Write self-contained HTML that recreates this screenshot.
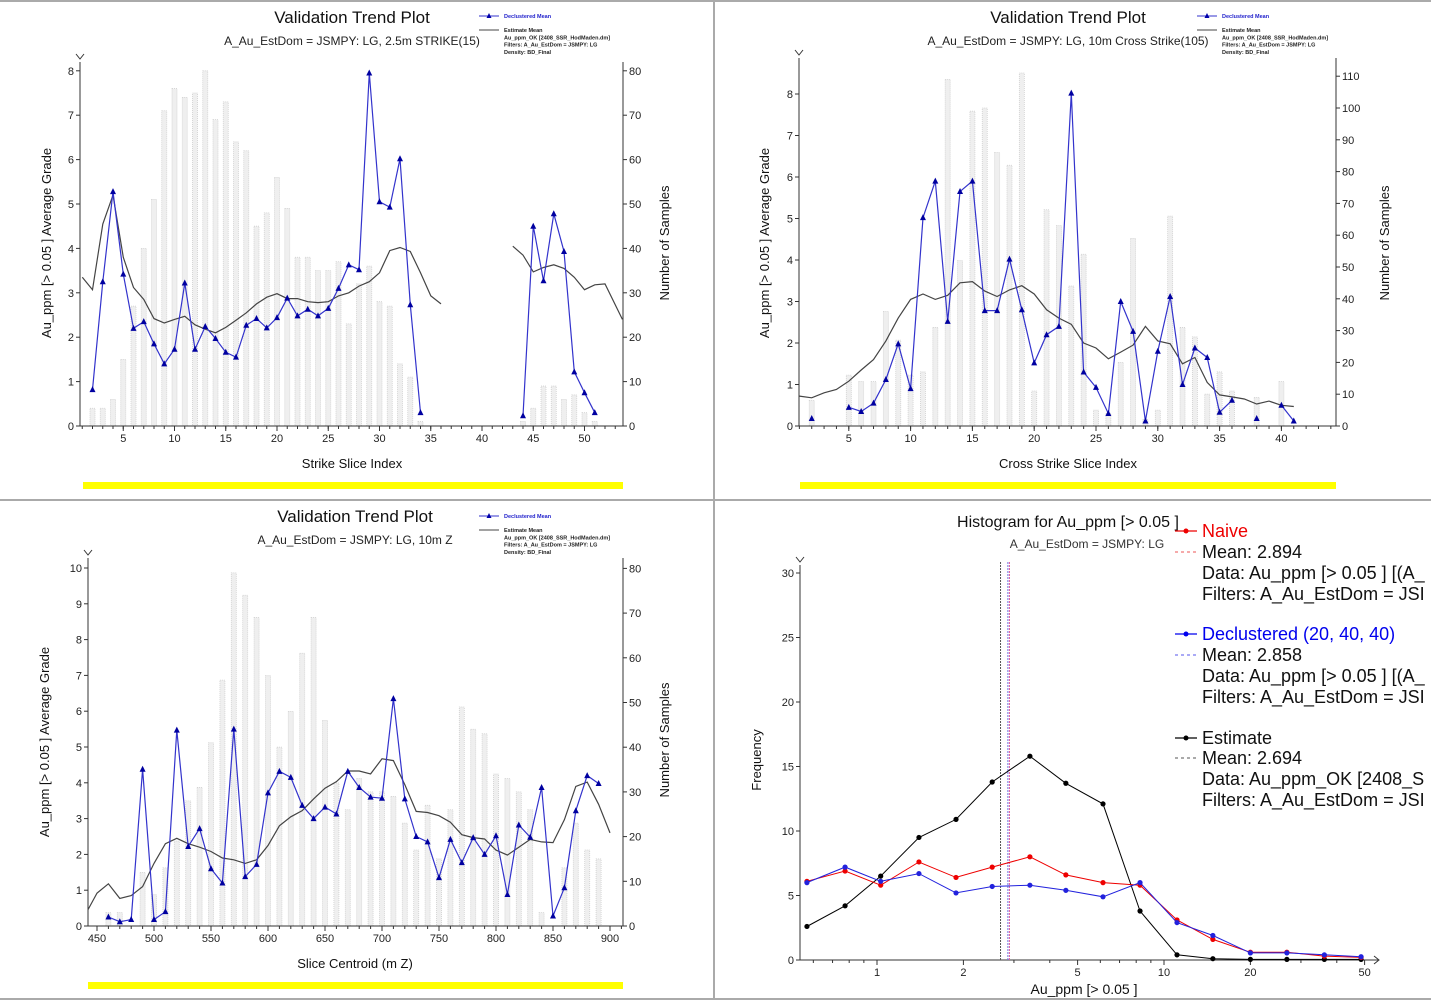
<!DOCTYPE html>
<html><head><meta charset="utf-8">
<style>
html,body{margin:0;padding:0;background:#fff;}
svg{display:block;font-family:"Liberation Sans","DejaVu Sans",sans-serif;}
</style></head>
<body>
<svg id="root" width="1431" height="1000" viewBox="0 0 1431 1000" xmlns="http://www.w3.org/2000/svg">
<rect x="0" y="0" width="1431" height="1000" fill="#fff"/>
<line x1="0" y1="1" x2="1431" y2="1" stroke="#aaa" stroke-width="2"/>
<line x1="714" y1="0" x2="714" y2="1000" stroke="#aaa" stroke-width="2"/>
<line x1="0" y1="500" x2="1431" y2="500" stroke="#aaa" stroke-width="2"/>
<line x1="0" y1="999" x2="1431" y2="999" stroke="#aaa" stroke-width="2"/>

<!-- Panel 1 texts -->
<text x="352" y="23" font-size="17" text-anchor="middle" fill="#111">Validation Trend Plot</text>
<text x="352" y="45" font-size="12" text-anchor="middle" fill="#222">A_Au_EstDom = JSMPY: LG, 2.5m STRIKE(15)</text>
<text x="352" y="468" font-size="13" text-anchor="middle" fill="#111">Strike Slice Index</text>
<text transform="translate(51,243) rotate(-90)" font-size="13" text-anchor="middle" fill="#111">Au_ppm [&gt; 0.05 ] Average Grade</text>
<text transform="translate(669,243) rotate(-90)" font-size="13" text-anchor="middle" fill="#111">Number of Samples</text>
<rect x="83" y="482" width="540" height="7" fill="#ffff00"/>

<!-- Panel 2 texts -->
<text x="1068" y="23" font-size="17" text-anchor="middle" fill="#111">Validation Trend Plot</text>
<text x="1068" y="45" font-size="12" text-anchor="middle" fill="#222">A_Au_EstDom = JSMPY: LG, 10m Cross Strike(105)</text>
<text x="1068" y="468" font-size="13" text-anchor="middle" fill="#111">Cross Strike Slice Index</text>
<text transform="translate(769,243) rotate(-90)" font-size="13" text-anchor="middle" fill="#111">Au_ppm [&gt; 0.05 ] Average Grade</text>
<text transform="translate(1389,243) rotate(-90)" font-size="13" text-anchor="middle" fill="#111">Number of Samples</text>
<rect x="800" y="482" width="536" height="7" fill="#ffff00"/>

<!-- Panel 3 texts -->
<text x="355" y="522" font-size="17" text-anchor="middle" fill="#111">Validation Trend Plot</text>
<text x="355" y="544" font-size="12" text-anchor="middle" fill="#222">A_Au_EstDom = JSMPY: LG, 10m Z</text>
<text x="355" y="968" font-size="13" text-anchor="middle" fill="#111">Slice Centroid (m Z)</text>
<text transform="translate(49,742) rotate(-90)" font-size="13" text-anchor="middle" fill="#111">Au_ppm [&gt; 0.05 ] Average Grade</text>
<text transform="translate(669,740) rotate(-90)" font-size="13" text-anchor="middle" fill="#111">Number of Samples</text>
<rect x="88" y="982" width="535" height="7" fill="#ffff00"/>

<!-- Panel 4 texts -->
<text x="1068" y="527" font-size="16" text-anchor="middle" fill="#111">Histogram for Au_ppm [&gt; 0.05 ]</text>
<text x="1087" y="548" font-size="12" text-anchor="middle" fill="#333">A_Au_EstDom = JSMPY: LG</text>
<text x="1084" y="994" font-size="14" text-anchor="middle" fill="#111">Au_ppm [&gt; 0.05 ]</text>
<text transform="translate(761,760) rotate(-90)" font-size="13" text-anchor="middle" fill="#111">Frequency</text>

<g id="hleg" font-size="18">
  <line x1="1175" y1="531" x2="1197" y2="531" stroke="#e00" stroke-width="1.2"/>
  <circle cx="1186" cy="531" r="2.5" fill="#e00"/>
  <text x="1202" y="537" fill="#e00">Naive</text>
  <line x1="1175" y1="552" x2="1197" y2="552" stroke="#e55" stroke-dasharray="3,3"/>
  <text x="1202" y="558" fill="#111">Mean: 2.894</text>
  <text x="1202" y="579" fill="#111">Data: Au_ppm [&gt; 0.05 ] [(A_</text>
  <text x="1202" y="600" fill="#111">Filters: A_Au_EstDom = JSI</text>

  <line x1="1175" y1="634" x2="1197" y2="634" stroke="#00e" stroke-width="1.2"/>
  <circle cx="1186" cy="634" r="2.5" fill="#00e"/>
  <text x="1202" y="640" fill="#00e">Declustered (20, 40, 40)</text>
  <line x1="1175" y1="655" x2="1197" y2="655" stroke="#55e" stroke-dasharray="3,3"/>
  <text x="1202" y="661" fill="#111">Mean: 2.858</text>
  <text x="1202" y="682" fill="#111">Data: Au_ppm [&gt; 0.05 ] [(A_</text>
  <text x="1202" y="703" fill="#111">Filters: A_Au_EstDom = JSI</text>

  <line x1="1175" y1="738" x2="1197" y2="738" stroke="#000" stroke-width="1.2"/>
  <circle cx="1186" cy="738" r="2.5" fill="#000"/>
  <text x="1202" y="744" fill="#111">Estimate</text>
  <line x1="1175" y1="758" x2="1197" y2="758" stroke="#555" stroke-dasharray="3,3"/>
  <text x="1202" y="764" fill="#111">Mean: 2.694</text>
  <text x="1202" y="785" fill="#111">Data: Au_ppm_OK [2408_S</text>
  <text x="1202" y="806" fill="#111">Filters: A_Au_EstDom = JSI</text>
</g>
</svg>
<script>
// ---------- Panel 1: Strike ----------
const strikeBarIdx = [2,3,4,5,6,7,8,9,10,11,12,13,14,15,16,17,18,19,20,21,22,23,24,25,26,27,28,29,30,31,32,33,34,44,45,46,47,48,49,50,51];
const strikeBarCounts = [4,4,6,15,27,40,51,71,76,74,75,80,69,73,64,62,45,48,56,49,38,38,35,35,37,23,32,36,28,27,14,11,1,1,4,9,9,6,7,3,1];
const strikeDecIdx = [2,3,4,5,6,7,8,9,10,11,12,13,14,15,16,17,18,19,20,21,22,23,24,25,26,27,28,29,30,31,32,33,34,null,44,45,46,47,48,49,50,51];
const strikeDecVals = [0.82,3.25,5.28,3.42,2.2,2.35,1.85,1.4,1.73,3.22,1.73,2.24,1.97,1.66,1.55,2.27,2.42,2.21,2.44,2.88,2.48,2.63,2.48,2.65,3.1,3.63,3.52,7.95,5.05,4.93,6.02,2.73,0.3,null,0.23,4.5,3.27,4.78,3.93,1.22,0.75,0.3];
const strikeEstIdx = [1,2,3,4,5,6,7,8,9,10,11,12,13,14,15,16,17,18,19,20,21,22,23,24,25,26,27,28,29,30,31,32,33,34,35,36,null,43,44,45,46,47,48,49,50,51,52,53.7];
const strikeEstVals = [3.35,3.07,4.55,5.2,3.8,3.12,2.85,2.42,2.32,2.4,2.47,2.28,2.18,2.1,2.22,2.38,2.55,2.75,2.9,2.98,2.87,2.87,2.8,2.78,2.8,2.93,3.0,3.15,3.25,3.45,3.95,4.02,3.93,3.45,2.93,2.75,null,4.05,3.85,3.47,3.57,3.63,3.55,3.35,3.07,3.18,3.2,2.4];
const strikeXTicks = [5,10,15,20,25,30,35,40,45,50];
const strikeYTicks = [0,1,2,3,4,5,6,7,8];
const strikeCountTicks = [0,10,20,30,40,50,60,70,80];

// ---------- Panel 2: Cross strike ----------
const crossBarIdx = [2,5,6,7,8,9,10,11,12,13,14,15,16,17,18,19,20,21,22,23,24,25,26,27,28,29,30,31,32,33,34,35,36,38,40];
const crossBarCounts = [8,16,14,14,36,27,16,17,31,109,52,99,100,86,82,111,11,68,63,44,54,5,4,20,59,2,5,66,31,28,10,17,11,9,14];
const crossDecIdx = [2,null,5,6,7,8,9,10,11,12,13,14,15,16,17,18,19,20,21,22,23,24,25,26,27,28,29,30,31,32,33,34,35,36,null,38,null,40,41];
const crossDecVals = [0.18,null,0.45,0.35,0.55,1.12,1.98,0.9,5.02,5.9,2.52,5.65,5.9,2.78,2.78,4.02,2.8,1.52,2.2,2.4,8.02,1.3,0.93,0.3,3.0,2.28,0.12,1.8,3.12,1.0,1.88,1.65,0.33,0.62,null,0.18,null,0.5,0.12];
const crossEstIdx = [1,2,3,4,5,6,7,8,9,10,11,12,13,14,15,16,17,18,19,20,21,22,23,24,25,26,27,28,29,30,31,32,33,34,35,36,37,38,39,40,41];
const crossEstVals = [0.72,0.68,0.8,0.88,1.08,1.35,1.6,2.05,2.6,3.05,3.18,3.05,3.15,3.45,3.48,3.25,3.12,3.28,3.38,3.18,2.8,2.6,2.45,2.0,1.88,1.62,1.78,1.95,2.4,2.05,1.98,1.5,1.65,1.05,0.75,0.7,0.65,0.53,0.6,0.5,0.47];
const crossXTicks = [5,10,15,20,25,30,35,40];
const crossYTicks = [0,1,2,3,4,5,6,7,8];
const crossCountTicks = [0,10,20,30,40,50,60,70,80,90,100,110];

// ---------- Panel 3: Z ----------
const zBarIdx = [460,470,490,500,510,520,530,540,550,560,570,580,590,600,610,620,630,640,650,660,670,680,690,700,710,720,730,740,750,760,770,780,790,800,810,820,830,840,860,870,880,890];
const zBarCounts = [3,3,12,7,13,19,28,31,41,55,79,74,69,56,40,48,61,69,46,32,26,33,30,30,29,23,17,27,15,26,49,44,43,34,33,30,26,3,13,23,17,15];
const zDecIdx = [460,470,480,490,500,510,520,530,540,550,560,570,580,590,600,610,620,630,640,650,660,670,680,690,700,710,720,730,740,750,760,770,780,790,800,810,820,830,840,850,860,870,880,890];
const zDecVals = [0.25,0.12,0.18,4.38,0.18,0.4,5.47,2.22,2.72,1.6,1.2,5.5,1.38,1.72,3.72,4.32,4.15,3.37,3.0,3.32,3.13,4.32,3.87,3.6,3.57,6.35,3.55,2.5,2.35,1.35,2.42,1.77,2.47,2.0,2.52,0.88,2.82,2.48,3.87,0.28,1.07,3.22,4.2,3.98];
const zEstIdx = [442,450,460,470,480,490,500,510,520,530,540,550,560,570,580,590,600,610,620,630,640,650,660,670,680,690,700,710,720,730,740,750,760,770,780,790,800,810,820,830,840,850,860,870,880,890,900];
const zEstVals = [0.45,0.92,1.18,0.77,0.85,1.1,1.75,2.3,2.45,2.3,2.2,2.08,1.9,1.85,1.75,1.85,2.25,2.8,3.05,3.22,3.55,3.85,4.03,4.33,4.33,4.25,4.67,4.62,3.95,3.2,3.17,3.08,2.9,2.55,2.47,2.43,2.12,1.98,2.2,2.42,2.35,2.33,2.97,3.9,4.02,3.4,2.6];
const zXTicks = [450,500,550,600,650,700,750,800,850,900];
const zYTicks = [0,1,2,3,4,5,6,7,8,9,10];
const zCountTicks = [0,10,20,30,40,50,60,70,80];

// ---------- Panel 4: Histogram ----------
const histBins = [0.57,0.774,1.03,1.40,1.885,2.52,3.41,4.55,6.13,8.25,11.1,14.8,20.0,26.8,36.2,48.6];
const histNaive = [6.1,6.9,5.8,7.6,6.4,7.2,8.0,6.6,6.0,5.8,3.1,1.6,0.6,0.6,0.3,0.2];
const histDeclustered = [6.0,7.2,6.1,6.7,5.2,5.7,5.8,5.4,4.9,6.0,2.9,1.9,0.55,0.55,0.4,0.25];
const histEstimate = [2.6,4.2,6.5,9.5,10.9,13.8,15.8,13.7,12.1,3.8,0.4,0.1,0.05,0.05,0.05,0.05];
const histMeans = [2.894,2.858,2.694];
const histXTicks = [1,2,5,10,20,50];
const histYTicks = [0,5,10,15,20,25,30];

const NS = 'http://www.w3.org/2000/svg';
const root = document.getElementById('root');
function mk(tag, attrs, parent){
  const e = document.createElementNS(NS, tag);
  for (const k in attrs) e.setAttribute(k, attrs[k]);
  (parent || root).appendChild(e);
  return e;
}

function trendPanel(key, P, barIdx, barCounts, decIdx, decVals, estIdx, estVals, xTicks, yTicks, cTicks, minorStep){
  const g = mk('g', {});
  
  
  const sx = v => P.x0 + (v - P.v0) * P.kx;
  const sy = v => P.by - v * P.ky;
  const sc = c => P.by - c * P.kc;
  // bars
  const bg = mk('g', {}, g);
  
  
  barIdx.forEach((v, i) => {
    const x = sx(v), h = barCounts[i] * P.kc;
    const r = mk('rect', {x: x - P.bw/2, y: P.by - h, width: P.bw, height: h, fill: '#efefef', stroke: '#cfcfcf', 'stroke-width': 0.8, 'stroke-dasharray': '1,1'}, bg);
    
    
  });
  // axes
  const ax = mk('g', {stroke: '#333', 'stroke-width': 1, fill: 'none'}, g);
  
  
  mk('line', {x1: P.left, y1: P.by, x2: P.right, y2: P.by}, ax);
  mk('line', {x1: P.left, y1: P.by, x2: P.left, y2: P.top}, ax);
  mk('line', {x1: P.right, y1: P.by, x2: P.right, y2: P.top}, ax);
  mk('polyline', {points: (P.left-4)+','+(P.top-8)+' '+P.left+','+(P.top-3)+' '+(P.left+4)+','+(P.top-8)}, ax);
  // minor x ticks
  for (let v = Math.ceil(sxInv(P.left)/minorStep)*minorStep; sx(v) <= P.right; v += minorStep){
    mk('line', {x1: sx(v), y1: P.by, x2: sx(v), y2: P.by + 3}, ax);
  }
  function sxInv(px){ return (px - P.x0)/P.kx + P.v0; }
  const lab = mk('g', {'font-size': 11, fill: '#222'}, g);
  
  
  xTicks.forEach(v => {
    mk('line', {x1: sx(v), y1: P.by, x2: sx(v), y2: P.by + 5, stroke: '#333'}, ax);
    const t = mk('text', {x: sx(v), y: P.by + 16, 'text-anchor': 'middle'}, lab);
    t.textContent = v;
    
    
  });
  yTicks.forEach(v => {
    mk('line', {x1: P.left - 4, y1: sy(v), x2: P.left, y2: sy(v), stroke: '#333'}, ax);
    const t = mk('text', {x: P.left - 6, y: sy(v) + 4, 'text-anchor': 'end'}, lab);
    t.textContent = v;
    
    
  });
  cTicks.forEach(v => {
    mk('line', {x1: P.right, y1: sc(v), x2: P.right + 4, y2: sc(v), stroke: '#333'}, ax);
    const t = mk('text', {x: P.right + 6, y: sc(v) + 4, 'text-anchor': 'start'}, lab);
    t.textContent = v;
    
    
  });
  // estimate line
  let segs = [], cur = [];
  estIdx.forEach((v, i) => {
    if (v === null || estVals[i] === null){ if (cur.length) segs.push(cur); cur = []; return; }
    cur.push(sx(v).toFixed(1) + ',' + sy(estVals[i]).toFixed(1));
  });
  if (cur.length) segs.push(cur);
  segs.forEach((s, j) => {
    const pl = mk('polyline', {points: s.join(' '), fill: 'none', stroke: '#444', 'stroke-width': 1.2}, g);
    
    
  });
  // declustered line
  segs = []; cur = [];
  decIdx.forEach((v, i) => {
    if (v === null || decVals[i] === null){ if (cur.length) segs.push(cur); cur = []; return; }
    cur.push(sx(v).toFixed(1) + ',' + sy(decVals[i]).toFixed(1));
  });
  if (cur.length) segs.push(cur);
  segs.forEach(s => {
    const pl = mk('polyline', {points: s.join(' '), fill: 'none', stroke: '#3333cc', 'stroke-width': 1.2}, g);
    
    
  });
  decIdx.forEach((v, i) => {
    if (v === null || decVals[i] === null) return;
    const x = sx(v), y = sy(decVals[i]);
    const m = mk('polygon', {points: x+','+(y-3.5)+' '+(x-3)+','+(y+2.5)+' '+(x+3)+','+(y+2.5), fill: '#0000a0'}, g);
    
    
  });
  // small legend
  const lg = mk('g', {'font-size': 5.5, 'font-weight': 'bold'}, g);
  
  
  const L = P.legX, T = P.legY;
  mk('line', {x1: L, y1: T, x2: L + 20, y2: T, stroke: '#33c', 'stroke-width': 1}, lg);
  mk('polygon', {points: (L+10)+','+(T-3)+' '+(L+7.5)+','+(T+2)+' '+(L+12.5)+','+(T+2), fill: '#00a'}, lg);
  let t = mk('text', {x: L + 25, y: T + 2, fill: '#22c'}, lg); t.textContent = 'Declustered Mean';
  mk('line', {x1: L, y1: T + 14, x2: L + 20, y2: T + 14, stroke: '#444', 'stroke-width': 1}, lg);
  const lines = ['Estimate Mean','Au_ppm_OK [2408_SSR_HodMaden.dm]','Filters: A_Au_EstDom = JSMPY: LG','Density: BD_Final'];
  lines.forEach((s, i) => { const tt = mk('text', {x: L + 25, y: T + 16 + i*7.3, fill: '#222'}, lg); tt.textContent = s; });
}

trendPanel('strike', {x0: 72, v0: 0, kx: 10.25, by: 426, ky: 44.4, kc: 4.44, left: 80, right: 623, top: 62, bw: 5, legX: 479, legY: 16},
  strikeBarIdx, strikeBarCounts, strikeDecIdx, strikeDecVals, strikeEstIdx, strikeEstVals, strikeXTicks, strikeYTicks, strikeCountTicks, 1);
trendPanel('cross', {x0: 787, v0: 0, kx: 12.36, by: 426, ky: 41.5, kc: 3.18, left: 799, right: 1336, top: 58, bw: 5, legX: 1197, legY: 16},
  crossBarIdx, crossBarCounts, crossDecIdx, crossDecVals, crossEstIdx, crossEstVals, crossXTicks, crossYTicks, crossCountTicks, 1);
trendPanel('z', {x0: 97, v0: 450, kx: 1.14, by: 926, ky: 35.8, kc: 4.47, left: 88, right: 623, top: 558, bw: 5, legX: 479, legY: 516},
  zBarIdx, zBarCounts, zDecIdx, zDecVals, zEstIdx, zEstVals, zXTicks, zYTicks, zCountTicks, 10);

// ---------- Histogram ----------
(function(){
  const g = mk('g', {});
  
  
  const sx = v => 877 + Math.log10(v) * 287;
  const sy = v => 960 - v * 12.9;
  const left = 800, right = 1378, top = 565;
  const ax = mk('g', {stroke: '#333', fill: 'none'}, g);
  
  
  mk('line', {x1: left, y1: 960, x2: right, y2: 960}, ax);
  mk('line', {x1: left, y1: 960, x2: left, y2: top}, ax);
  mk('polyline', {points: (left-4)+','+(top-8)+' '+left+','+(top-3)+' '+(left+4)+','+(top-8)}, ax);
  mk('polyline', {points: (right-4)+','+956+' '+(right+1)+','+960+' '+(right-4)+','+964}, ax);
  [0.6,0.7,0.8,0.9,3,4,6,7,8,9,30,40].forEach(v => mk('line', {x1: sx(v), y1: 960, x2: sx(v), y2: 963}, ax));
  const lab = mk('g', {'font-size': 11, fill: '#222'}, g);
  
  
  histXTicks.forEach(v => {
    mk('line', {x1: sx(v), y1: 960, x2: sx(v), y2: 965, stroke: '#333'}, ax);
    const t = mk('text', {x: sx(v), y: 976, 'text-anchor': 'middle'}, lab);
    t.textContent = v;
    
    
  });
  histYTicks.forEach(v => {
    mk('line', {x1: left - 4, y1: sy(v), x2: left, y2: sy(v), stroke: '#333'}, ax);
    const t = mk('text', {x: left - 6, y: sy(v) + 4, 'text-anchor': 'end'}, lab);
    t.textContent = v;
    
    
  });
  const meanColors = ['#e060a0', '#7070e0', '#555'];
  histMeans.forEach((m, i) => {
    const l = mk('line', {x1: sx(m), y1: 960, x2: sx(m), y2: 562, stroke: meanColors[i], 'stroke-width': 1, 'stroke-dasharray': '2,1'}, g);
    
    
  });
  const series = [[histEstimate, '#000', 'estimate'], [histNaive, '#e00', 'naive'], [histDeclustered, '#22d', 'declustered']];
  series.forEach(([vals, col, nm]) => {
    const pts = histBins.map((b, i) => sx(b).toFixed(1) + ',' + sy(vals[i]).toFixed(1)).join(' ');
    const pl = mk('polyline', {points: pts, fill: 'none', stroke: col, 'stroke-width': 1}, g);
    
    
    histBins.forEach((b, i) => {
      const c = mk('circle', {cx: sx(b), cy: sy(vals[i]), r: 2.6, fill: col}, g);
      
      
    });
  });
  root.appendChild(document.getElementById('hleg'));
})();
</script>
</body></html>
